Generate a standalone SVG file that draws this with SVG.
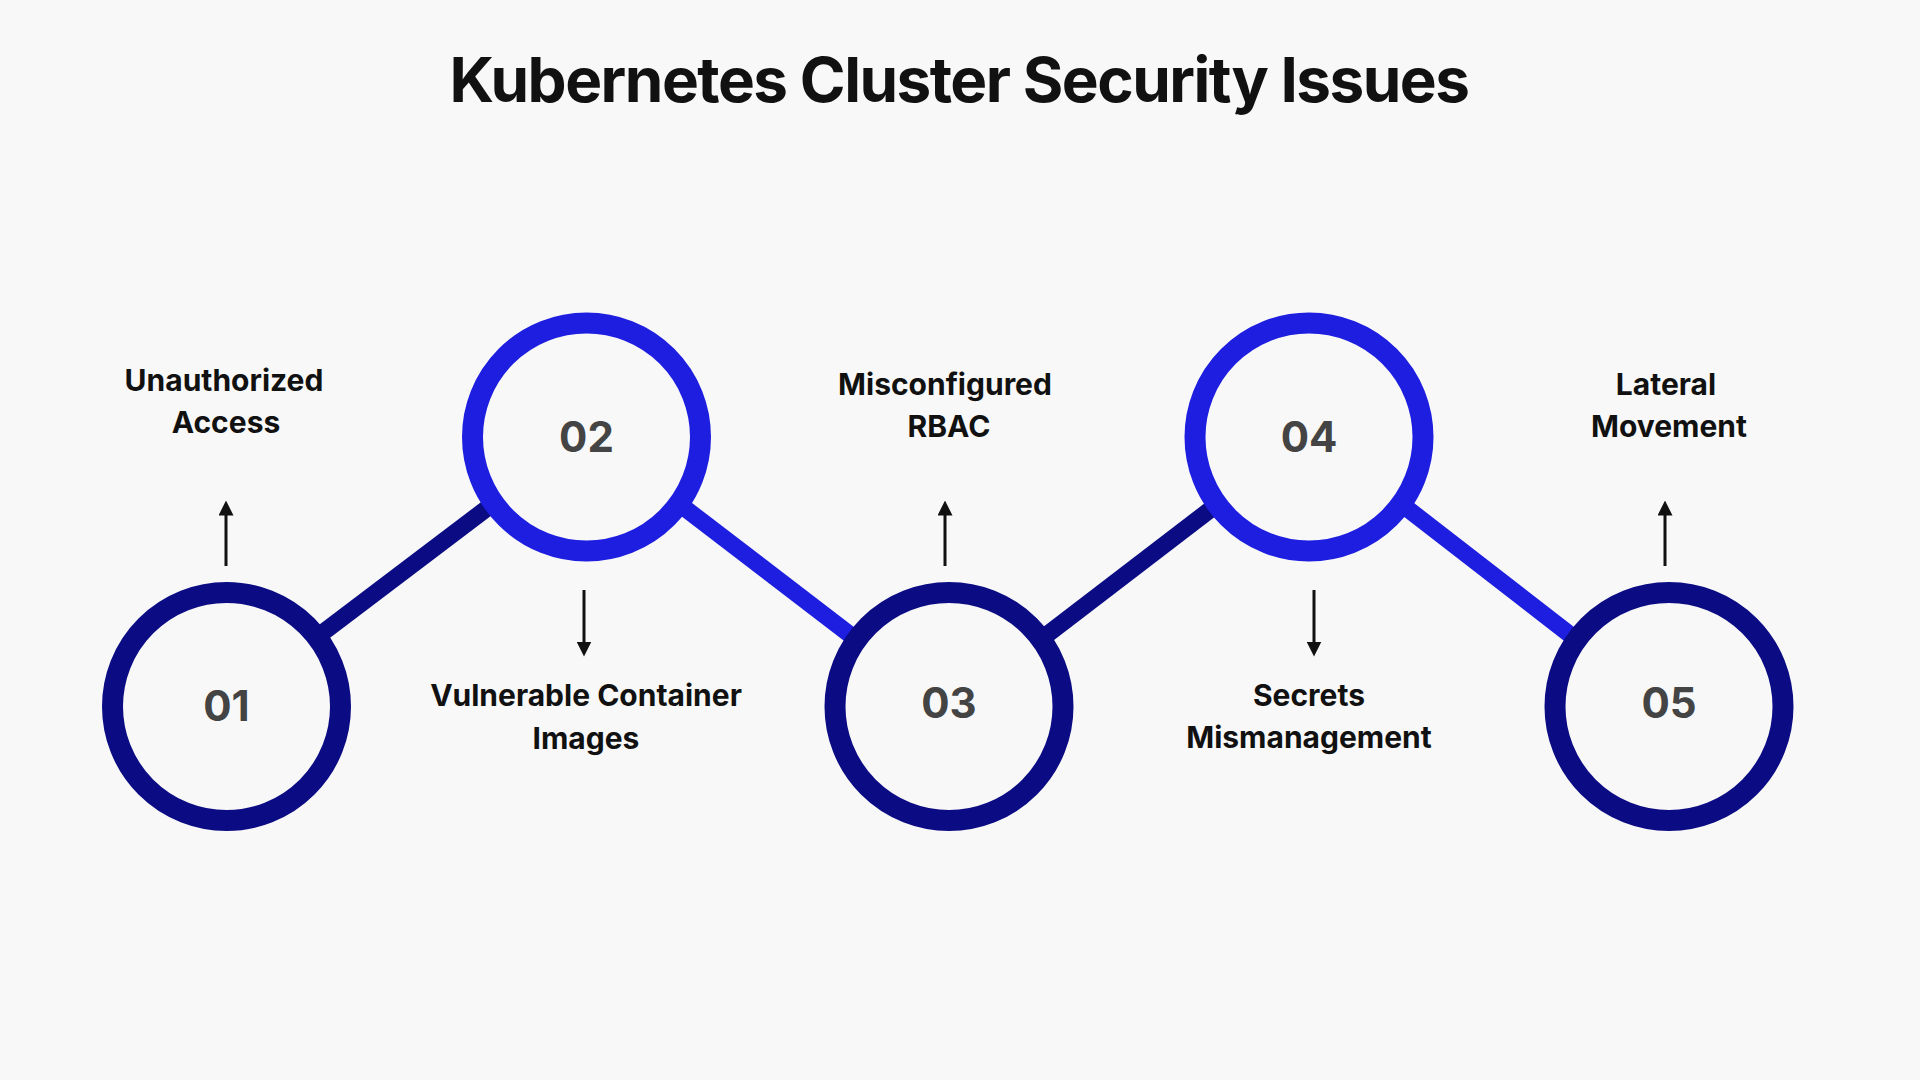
<svg xmlns="http://www.w3.org/2000/svg" width="1920" height="1080" viewBox="0 0 1920 1080">
<defs>
<marker id="ah" viewBox="0 0 10 10" refX="5" refY="5" markerWidth="5" markerHeight="5" orient="auto-start-reverse"><path d="M0,0 L10,5 L0,10 z" fill="#111"/></marker>
<style>
.t{font-family:Inter,"Liberation Sans",sans-serif;font-weight:700;fill:#111;text-anchor:middle}
.lab{font-size:30px}
.num{font-size:42px;fill:#444}
.c{fill:none;stroke-width:21}
.dark{stroke:#0B0B84}
.blue{stroke:#1E1EE0}
.ln{stroke-width:17;stroke-linecap:butt}
.ar{stroke:#111;stroke-width:3;marker-end:url(#ah)}
</style>
</defs>
<rect width="1920" height="1080" fill="#F8F8F8"/>
<text class="t" x="959" y="102" font-size="62" letter-spacing="-1.5">Kubernetes Cluster Security Issues</text>
<g id="connectors">
<line class="ln dark" x1="321" y1="634" x2="490" y2="506"/>
<line class="ln blue" x1="682" y1="506" x2="853" y2="637"/>
<line class="ln dark" x1="1044" y1="637" x2="1215" y2="506"/>
<line class="ln blue" x1="1404" y1="506" x2="1573" y2="637"/>
<line class="ar" x1="226" y1="566" x2="226" y2="508"/>
<line class="ar" x1="584" y1="590" x2="584" y2="649"/>
<line class="ar" x1="945" y1="566" x2="945" y2="508"/>
<line class="ar" x1="1314" y1="590" x2="1314" y2="649"/>
<line class="ar" x1="1665" y1="566" x2="1665" y2="508"/>
</g>
<g id="n1"><circle class="c dark" cx="226.5" cy="706.5" r="114"/><text class="t num" x="226.5" y="721">01</text>
<text class="t lab" x="224" y="391">Unauthorized</text><text class="t lab" x="226" y="433">Access</text></g>
<g id="n2"><circle class="c blue" cx="586.5" cy="437" r="114"/><text class="t num" x="586.5" y="452">02</text>
<text class="t lab" x="586" y="706">Vulnerable Container</text><text class="t lab" x="586" y="749">Images</text></g>
<g id="n3"><circle class="c dark" cx="949" cy="706.5" r="114"/><text class="t num" x="949" y="718">03</text>
<text class="t lab" x="945" y="395">Misconfigured</text><text class="t lab" x="949" y="437">RBAC</text></g>
<g id="n4"><circle class="c blue" cx="1309" cy="437" r="114"/><text class="t num" x="1309" y="452">04</text>
<text class="t lab" x="1309" y="706">Secrets</text><text class="t lab" x="1309" y="748">Mismanagement</text></g>
<g id="n5"><circle class="c dark" cx="1669" cy="706.5" r="114"/><text class="t num" x="1669" y="718">05</text>
<text class="t lab" x="1666" y="395">Lateral</text><text class="t lab" x="1669" y="437">Movement</text></g>
</svg>
